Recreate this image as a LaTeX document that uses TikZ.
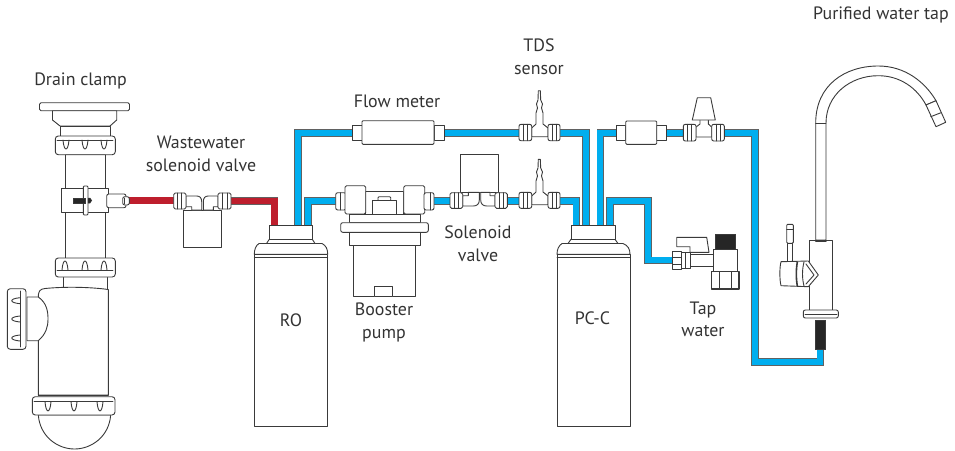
\documentclass[tikz,border=0pt]{standalone}
\usepackage{fontspec}
\setmainfont{PT Sans}
\definecolor{pipeblue}{HTML}{00AEEF}
\definecolor{drainred}{HTML}{BE1E2D}
\definecolor{partline}{HTML}{3A3A3A}
\definecolor{labelgray}{HTML}{333333}
\tikzset{
  part/.style={draw=partline,fill=white,line width=.9pt,line join=round},
  edge/.style={draw=partline,line width=.9pt,line cap=round,line join=round},
  blackpart/.style={draw=partline,fill=black!85,line width=.5pt},
  waterpipe/.style={draw=pipeblue,line width=6.2pt,preaction={draw=partline!80,line width=7.6pt}},
  drainpipe/.style={draw=drainred,line width=6.2pt,preaction={draw=partline!80,line width=7.6pt}},
  lbl/.style={text=labelgray,align=center,inner sep=0pt,font=\fontsize{17.9}{22.5}\selectfont}
}
\begin{document}
\begin{tikzpicture}[x=1pt,y=-1pt]
\useasboundingbox (0,0) rectangle (955,450);
% pipes
\draw[drainpipe] (128,200.5) -- (175,200.5);
\draw[drainpipe] (230,201) -- (274.5,201) -- (274.5,226);
\draw[waterpipe] (298,226) -- (298,133) -- (354,133);
\draw[waterpipe] (308,226) -- (308,201) -- (337,201);
\draw[waterpipe] (443,133) -- (520,133);
\draw[waterpipe] (559,133) -- (586,133) -- (586,226);
\draw[waterpipe] (433,201) -- (451,201);
\draw[waterpipe] (506,201) -- (520,201);
\draw[waterpipe] (559,201) -- (576.3,201) -- (576.3,226);
\draw[waterpipe] (600.3,226) -- (600.3,133) -- (617,133);
\draw[waterpipe] (665,133) -- (684,133);
\draw[waterpipe] (723,133) -- (754.7,133) -- (754.7,362) -- (820.3,362) -- (820.3,348);
\draw[waterpipe] (609.7,226) -- (609.7,201) -- (648,201) -- (648,260.3) -- (674,260.3);
% drain
\path[part,rounded corners=1.5pt] (39.5,102.7) rectangle (129.5,110.7);
\path[part] (52.5,110.7) -- (52.5,120) -- (60,126) -- (110,126) -- (116.7,120) -- (116.7,110.7) -- cycle;
\path[part] (60,126) rectangle (110,136);
\path[part] (65,154) rectangle (105,258);
\path[part,rounded corners=3pt] (55.3,136) rectangle (115.3,154.7);
\draw[edge] (57,140) -- (113,140);
\draw[edge] (63,140) .. controls (64,152) and (68,152) .. (69,140);
\draw[edge] (82,140) .. controls (83,152) and (87,152) .. (88,140);
\draw[edge] (101,140) .. controls (102,152) and (106,152) .. (107,140);
\path[part] (61,188) rectangle (108.3,212.7);
\path[part,rounded corners=1pt] (83.3,186) rectangle (88,215);
\path[blackpart] (73,198) rectangle (85,203);
\path[blackpart] (88,198) -- (90,198) -- (91.7,200.5) -- (90,203) -- (88,203) -- cycle;
\path[part,rounded corners=2pt] (106.7,194) rectangle (126,207.7);
\path[part,rounded corners=2pt] (122.7,196.7) rectangle (129.3,205);
\draw[edge] (124.5,198) -- (124.5,204);
\path[part] (63.3,275) rectangle (107.3,289);
\path[part,rounded corners=3pt] (55.3,258) rectangle (115.3,277);
\draw[edge] (57,270) -- (113,270);
\draw[edge] (62,270) .. controls (63,258) and (67,258) .. (68,270);
\draw[edge] (82,270) .. controls (83,258) and (87,258) .. (88,270);
\draw[edge] (101,270) .. controls (102,258) and (106,258) .. (107,270);
\path[part] (38.3,295) .. controls (39,291) and (40,289) .. (45,288.5) .. controls (65,286.5) and (90,287) .. (108.3,289.5) -- (108.3,395) -- (38.3,395) -- cycle;
\path[part] (27,297) -- (38.3,297) .. controls (47,303) and (48,312) .. (48,319) .. controls (48,327) and (46,334) .. (38.3,340.7) -- (27,340.7) -- cycle;
\path[part,rounded corners=3pt] (7.3,288.7) rectangle (26,349.3);
\draw[edge] (20,291) -- (20,347);
\draw[edge] (20,297.7) .. controls (9,298.7) and (9,302.7) .. (20,303.7);
\draw[edge] (20,316) .. controls (9,317) and (9,321) .. (20,322);
\draw[edge] (20,335) .. controls (9,336) and (9,340) .. (20,341);
\path[part] (38.3,415) .. controls (40,437) and (58,449) .. (74.5,449) .. controls (91,449) and (109,437) .. (110.7,415) -- cycle;
\path[part,rounded corners=3pt] (32.3,396.7) rectangle (115,415);
\draw[edge] (34,401.7) -- (113,401.7);
\draw[edge] (45,401.7) .. controls (46,414) and (50,414) .. (51,401.7);
\draw[edge] (71,401.7) .. controls (72,414) and (76,414) .. (77,401.7);
\draw[edge] (97,401.7) .. controls (98,414) and (102,414) .. (103,401.7);
\draw[edge] (38.3,395) -- (108.3,395);
% wastewater valve
\path[part] (183.3,210) rectangle (221.3,247.7);
\path[part] (186,196) -- (196.7,196) .. controls (200,196) and (201.7,198) .. (201.7,201.7) -- (201.7,210) -- (191.7,210) -- (191.7,206.7) -- (186,206.7) -- cycle;
\path[part] (218,196) -- (208.3,196) .. controls (205,196) and (203.3,198) .. (203.3,201.7) -- (203.3,210) -- (213.3,210) -- (213.3,206.7) -- (218,206.7) -- cycle;
\path[part,rounded corners=1.5pt] (173.7,193) rectangle (186,209);
\draw[edge] (177.5,193) -- (177.5,209);
\draw[edge] (181.5,193) -- (181.5,209);
\path[part,rounded corners=1.5pt] (218,193) rectangle (231,209);
\draw[edge] (222,193) -- (222,209);
\draw[edge] (227,193) -- (227,209);
% RO filter
\path[part] (254.3,254.3) .. controls (254.3,249) and (256,245.5) .. (259,243.5) -- (322,243.5) .. controls (326,245.5) and (327.7,249) .. (327.7,254.3) -- cycle;
\path[part] (266.5,243.5) -- (269.3,239.3) -- (312.3,239.3) -- (315,243.5) -- cycle;
\path[part] (269.3,225.7) rectangle (312.3,239.3);
\path[part] (254.3,254.3) rectangle (327.7,426);
\draw[edge] (254.3,257.3) -- (327.7,257.3);
% booster pump
\path[part,rounded corners=2pt] (335.7,192.7) rectangle (346,210);
\draw[edge] (340,192.7) -- (340,210);
\path[part] (365.7,191.7) rectangle (403.7,214);
\path[part,rounded corners=1.5pt] (345,185.7) rectangle (365.7,214);
\path[part,rounded corners=1.5pt] (403.7,185.7) rectangle (424.7,214);
\path[part,rounded corners=2pt] (424,192.7) rectangle (434,210);
\draw[edge] (430,192.7) -- (430,210);
\path[part,rounded corners=1pt] (378,196.7) rectangle (390.7,201);
\path[part] (372.7,200.7) rectangle (396.7,214);
\path[part] (349.3,214) rectangle (420,222.7);
\path[part] (349.3,232.3) rectangle (420,245.7);
\path[part,rounded corners=2pt] (340.7,222.7) rectangle (428.3,232.3);
\path[part] (353.7,245.7) rectangle (415.3,296.7);
\path[part] (374,286.3) rectangle (392.7,296.7);
% flow meter
\path[part] (352.3,125.7) rectangle (362,140);
\path[part] (434,125.7) rectangle (444,140);
\path[part,rounded corners=1pt] (362,120.7) rectangle (434,144.3);
% TDS sensor
\path[part] (538.3,90.7) -- (540.3,90.7) -- (540.7,100) -- (542.5,104) -- (541.5,108) -- (543,113) -- (543,124) -- (548,128) -- (548,136.7) -- (531.7,136.7) -- (531.7,128) -- (536,124) -- (536,113) -- (537.5,108) -- (536.5,104) -- (538,100) -- cycle;
\path[part,rounded corners=2pt] (519,124.3) rectangle (531.7,140.7);
\draw[edge] (523,124.3) -- (523,140.7);
\draw[edge] (527,124.3) -- (527,140.7);
\path[part,rounded corners=2pt] (548,124.3) rectangle (560,140.7);
\draw[edge] (552,124.3) -- (552,140.7);
\draw[edge] (556,124.3) -- (556,140.7);
% solenoid valve
\path[part] (460,154.3) rectangle (498.3,192.3);
\path[part] (462.7,206) -- (473.3,206) .. controls (477,206) and (479.3,204) .. (479.3,200) -- (479.3,192.3) -- (468.3,192.3) -- (468.3,195.7) -- (462.7,195.7) -- cycle;
\path[part] (495,206) -- (486.7,206) .. controls (483,206) and (480.7,204) .. (480.7,200) -- (480.7,192.3) -- (490,192.3) -- (490,195.7) -- (495,195.7) -- cycle;
\path[part,rounded corners=1.5pt] (450,192.7) rectangle (462.7,208.3);
\draw[edge] (454,192.7) -- (454,208.3);
\draw[edge] (458,192.7) -- (458,208.3);
\path[part,rounded corners=1.5pt] (495,192.7) rectangle (507.3,208.3);
\draw[edge] (499,192.7) -- (499,208.3);
\draw[edge] (503,192.7) -- (503,208.3);
\path[part] (538.3,159.3) -- (540.3,159.3) -- (540.7,168) -- (542.5,172) -- (541.5,176) -- (543,181) -- (543,192) -- (548,196) -- (548,204.7) -- (531.7,204.7) -- (531.7,196) -- (536,192) -- (536,181) -- (537.5,176) -- (536.5,172) -- (538,168) -- cycle;
\path[part,rounded corners=2pt] (519,192.3) rectangle (531.7,208.3);
\draw[edge] (523,192.3) -- (523,208.3);
\draw[edge] (527,192.3) -- (527,208.3);
\path[part,rounded corners=2pt] (548,192.3) rectangle (560,208.3);
\draw[edge] (552,192.3) -- (552,208.3);
\draw[edge] (556,192.3) -- (556,208.3);
% PC-C filter
\path[part] (557,254.3) .. controls (557,249) and (559,245.5) .. (562,243.5) -- (623,243.5) .. controls (628,245.5) and (630,249) .. (630,254.3) -- cycle;
\path[part] (568,243.5) -- (571,239.3) -- (615,239.3) -- (618,243.5) -- cycle;
\path[part] (571,225) rectangle (615,239.3);
\path[part] (557,254.3) rectangle (630,426);
\draw[edge] (557,257.3) -- (630,257.3);
% second flow meter and valve
\path[part] (616,125) rectangle (625.7,140);
\path[part] (656.7,125) rectangle (666,140);
\path[part,rounded corners=1pt] (625.7,121) rectangle (656.7,144.3);
\path[part] (696,127) -- (700,124) -- (700,119) -- (708.3,119) -- (708.3,124) -- (711.7,127) -- (711.7,137) -- (696,137) -- cycle;
\path[part] (692.3,120) -- (697.3,97.7) -- (710.7,97.7) -- (715.3,120) -- cycle;
\path[part,rounded corners=2pt] (683.3,124.3) rectangle (696,141);
\draw[edge] (687,124.3) -- (687,141);
\draw[edge] (691,124.3) -- (691,141);
\path[part,rounded corners=2pt] (711.7,124.3) rectangle (724.3,141);
\draw[edge] (716,124.3) -- (716,141);
\draw[edge] (720,124.3) -- (720,141);
% tap water valve
\path[part] (676.7,237.3) -- (706.7,237.3) -- (709,252.3) -- (690,252.3) -- (690,246.7) -- (676.7,246.7) -- cycle;
\path[part] (690,254) rectangle (713.3,266);
\path[part] (672.7,251.7) rectangle (681,269.3);
\path[part] (681,252.7) rectangle (690,268.3);
\draw[edge] (672.7,257) -- (681,257);
\draw[edge] (672.7,264) -- (681,264);
\draw[edge] (685,252.7) -- (685,268.3);
\path[blackpart] (715,234) rectangle (735,249.3);
\path[part] (713.3,249.3) rectangle (737.7,271.7);
\path[part,line width=1.2pt] (711.7,271.7) rectangle (739,289);
\draw[edge] (719.3,271.7) -- (719.3,289);
\draw[edge] (731.7,271.7) -- (731.7,289);
% faucet
\path[part] (815.7,240) -- (815.7,123) .. controls (815.7,85) and (845,66) .. (878.3,66) .. controls (905,66) and (925,82) .. (936,100.7) -- (926,105) .. controls (917,88) and (900,75.7) .. (878.3,75.7) .. controls (850,75.7) and (826,95) .. (826,123) -- (826,240) -- cycle;
\path[part] (926,105) -- (936,100.7) -- (945.7,122.3) -- (936,126.7) -- cycle;
\draw[edge] (930.7,116.7) -- (941,112.7);
\draw[edge] (815.7,123) -- (826,123);
\path[blackpart] (815.7,320) rectangle (825,349.3);
\path[part] (809,240) rectangle (832.7,310);
\draw[edge,line width=1.5pt] (815.7,241) -- (826,241);
\path[part,rounded corners=2pt] (803.3,310) rectangle (838.3,318);
\draw[edge] (805,314) -- (837,314);
\path[part] (787.7,243) rectangle (792.7,261.7);
\path[part,rounded corners=1pt] (786.7,224.3) rectangle (793.3,243.3);
\draw[edge] (786.7,229) -- (793.3,229);
\path[part] (781,261.7) -- (808.3,261) -- (818.3,275) -- (808.3,286.7) -- (781,285.7) .. controls (779.5,280) and (779.5,267) .. (781,261.7) -- cycle;
\draw[edge,line width=1.6pt] (797.3,262) .. controls (796,270) and (796,278) .. (797.3,286);
\draw[edge] (806,264) -- (814,275) -- (806,284);
\draw[edge] (804,262) .. controls (802,270) and (802,278) .. (804,286);
% labels
\node[lbl] (tapoutlbl) at (881,15) {Purified water tap};
\node[lbl] (clamplbl) at (80.5,81) {Drain clamp};
\node[lbl] (wastelbl) at (201,154) {Wastewater\\solenoid valve};
\node[lbl] (flowlbl) at (397,101) {Flow meter};
\node[lbl] (tdslbl) at (539,56.5) {TDS\\sensor};
\node[lbl] (rolbl) at (291,320) {RO};
\node[lbl] (pumplbl) at (384,322.5) {Booster\\pump};
\node[lbl] (solenoidlbl) at (478,243.5) {Solenoid\\valve};
\node[lbl] (pcclbl) at (592.5,318) {PC-C};
\node[lbl] (taplbl) at (703,319.5) {Tap\\water};
\end{tikzpicture}
\end{document}
